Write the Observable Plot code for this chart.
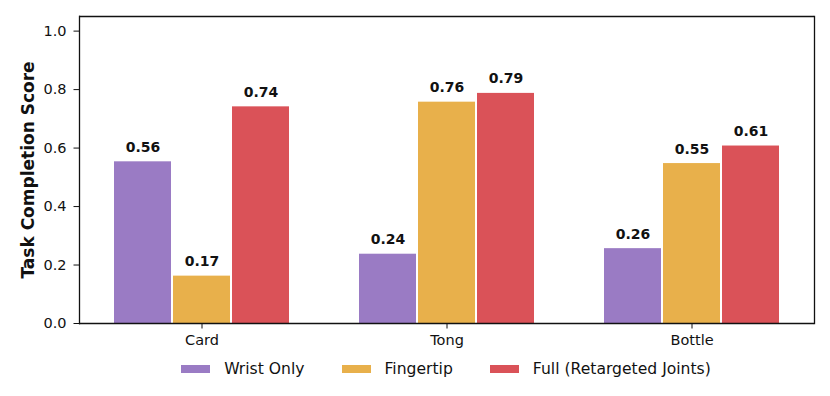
<!DOCTYPE html>
<html>
<head>
<meta charset="utf-8">
<script src="https://cdn.jsdelivr.net/npm/d3@7"></script>
<script src="https://cdn.jsdelivr.net/npm/@observablehq/plot@0.6"></script>
<style>
  body { margin: 0; background: #fff; font-family: "DejaVu Sans", sans-serif; }
  #legend { width: 830px; box-sizing: border-box; padding-left: 78px; padding-right: 16px;
    display: flex; justify-content: center; gap: 37px; margin-top: 9px; font-size: 15.6px; color: #111; }
  .item { display: flex; align-items: center; gap: 14px; line-height: 20px; }
  .sw { width: 29px; height: 8px; display: inline-block; }
</style>
</head>
<body>
<div id="chart"></div>
<div id="legend"></div>
<script>
const categories = ["Card", "Tong", "Bottle"];
const series = ["Wrist Only", "Fingertip", "Full (Retargeted Joints)"];
const colors = ["#9a7bc4", "#e8b04b", "#da5258"];
// bar heights
const wristOnly = [0.553, 0.237, 0.256];
const fingertip = [0.162, 0.757, 0.547];
const full = [0.741, 0.787, 0.607];
// printed value labels
const wristLabels = ["0.56", "0.24", "0.26"];
const fingertipLabels = ["0.17", "0.76", "0.55"];
const fullLabels = ["0.74", "0.79", "0.61"];
const yTicks = [0, 0.2, 0.4, 0.6, 0.8, 1.0];
const yMax = 1.05;

const values = [wristOnly, fingertip, full];
const labels = [wristLabels, fingertipLabels, fullLabels];
const data = [];
series.forEach((s, si) => categories.forEach((c, ci) => {
  data.push({category: c, series: s, value: values[si][ci], label: labels[si][ci]});
}));

const chart = Plot.plot({
  width: 830,
  height: 350,
  marginLeft: 78,
  marginRight: 16,
  marginTop: 16,
  marginBottom: 27,
  style: {fontFamily: "DejaVu Sans", fontSize: "14.5px", color: "#111", background: "#fff"},
  fx: {domain: categories, padding: 0, label: null, axis: null},
  x: {domain: series, paddingInner: 0.034, paddingOuter: 0.592, axis: null},
  y: {domain: [0, yMax], label: null, axis: null},
  color: {domain: series, range: colors},
  marks: [
    Plot.barY(data, {fx: "category", x: "series", y: "value", fill: "series"}),
    Plot.text(data, {fx: "category", x: "series", y: "value", text: "label",
      lineAnchor: "bottom", dy: -10, fontWeight: "bold", fontSize: 14, fill: "#111"}),
    Plot.axisY({ticks: yTicks, tickFormat: ".1f", tickSize: 5.5, tickPadding: 7.5, label: null,
      stroke: "#111", fontSize: 14.5}),
    Plot.axisFx({anchor: "bottom", tickSize: 5.5, tickPadding: 6, label: null, stroke: "#111", fontSize: 14.5}),
    Plot.text(["Task Completion Score"], {frameAnchor: "left", facetAnchor: "left",
      textAnchor: "middle", rotate: -90, dx: -51, fontWeight: "bold", fontSize: 17, fill: "#111"}),
    Plot.ruleY([0, yMax], {stroke: "#111", strokeWidth: 1.3}),
    Plot.frame({anchor: "left", facetAnchor: "left", stroke: "#111", strokeWidth: 1.3}),
    Plot.frame({anchor: "right", facetAnchor: "right", stroke: "#111", strokeWidth: 1.3})
  ]
});
document.getElementById("chart").appendChild(chart);

const legend = document.getElementById("legend");
series.forEach((s, i) => {
  const it = document.createElement("div");
  it.className = "item";
  const sw = document.createElement("span");
  sw.className = "sw";
  sw.style.background = colors[i];
  const t = document.createElement("span");
  t.textContent = s;
  it.appendChild(sw);
  it.appendChild(t);
  legend.appendChild(it);
});
</script>
</body>
</html>
